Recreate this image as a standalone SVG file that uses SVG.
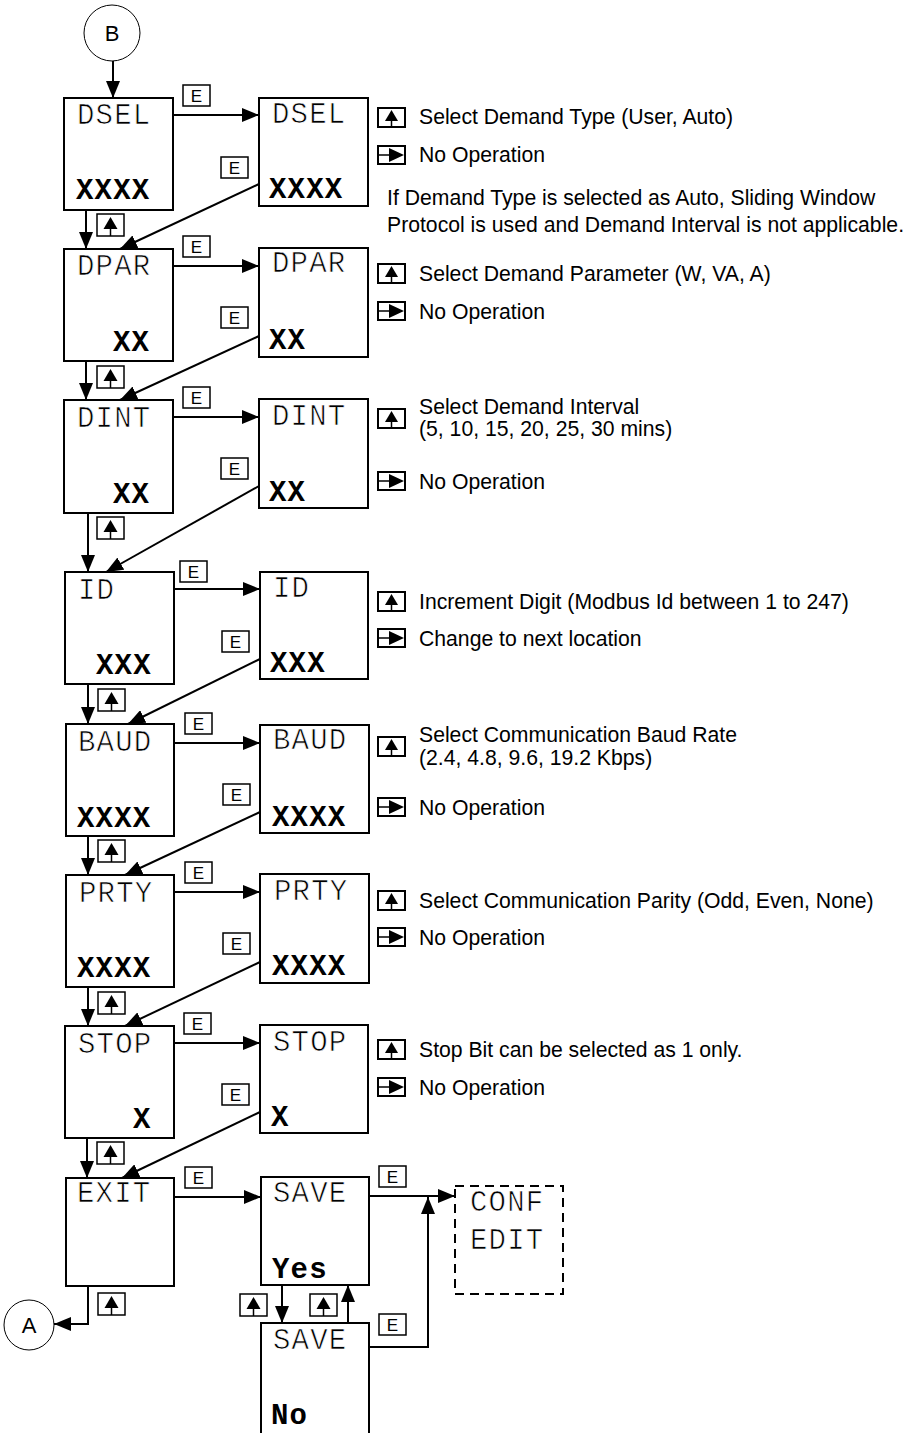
<svg xmlns="http://www.w3.org/2000/svg" xmlns:xlink="http://www.w3.org/1999/xlink" width="917" height="1433" viewBox="0 0 917 1433">
<style>
.box{fill:#fff;stroke:#000;stroke-width:2}
.dash{fill:#fff;stroke:#000;stroke-width:2;stroke-dasharray:9,6}
.lbl{font-family:"Liberation Mono",monospace;font-size:29px;letter-spacing:1.2px;fill:#000;stroke:#fff;stroke-width:0.7px}
.val{font-family:"Liberation Mono",monospace;font-size:29px;letter-spacing:1.2px;font-weight:bold;fill:#000}
.side{font-family:"Liberation Sans",Arial,sans-serif;font-size:21.2px;fill:#000}
.circ{fill:#fff;stroke:#000;stroke-width:1}
.ctext{font-family:"Liberation Sans",Arial,sans-serif;font-size:22px;fill:#000;text-anchor:middle}
.con{fill:none;stroke:#000;stroke-width:2}
.k{fill:#fff;stroke:#000;stroke-width:1.5}
.ke{font-family:"Liberation Sans",Arial,sans-serif;font-size:17px;fill:#000;text-anchor:middle}
</style>
<defs>
<marker id="ah" markerUnits="userSpaceOnUse" markerWidth="17" markerHeight="14" refX="17" refY="7" orient="auto">
<path d="M0,0 L17,7 L0,14 Z" fill="#000"/>
</marker>
<g id="ek"><rect class="k" x="0" y="0" width="27" height="21"/><text class="ke" x="13.5" y="17">E</text></g>
<g id="uk"><rect class="k" x="0" y="0" width="27" height="22"/><path d="M13.5,3 L20.5,15 L6.5,15 Z" fill="#000"/><line x1="13.5" y1="15" x2="13.5" y2="22" stroke="#000" stroke-width="1.5"/></g>
<g id="us"><rect class="k" x="0" y="0" width="27" height="19" style="stroke-width:2"/><path d="M13.5,2 L20,13 L7,13 Z" fill="#000"/><line x1="13.5" y1="13" x2="13.5" y2="19" stroke="#000" stroke-width="1.5"/></g>
<g id="rs"><rect class="k" x="0" y="0" width="27" height="18" style="stroke-width:2"/><line x1="0" y1="9" x2="11" y2="9" stroke="#000" stroke-width="1.5"/><path d="M11,2 L26,9 L11,16 Z" fill="#000"/></g>
</defs>

<g id="connectors">
<line class="con" x1="113" y1="61" x2="113" y2="98" marker-end="url(#ah)"/>
<line class="con" x1="173" y1="115" x2="259" y2="115" marker-end="url(#ah)"/>
<line class="con" x1="259" y1="184" x2="120" y2="249" marker-end="url(#ah)"/>
<line class="con" x1="86" y1="210" x2="86" y2="249" marker-end="url(#ah)"/>
<line class="con" x1="173" y1="266" x2="259" y2="266" marker-end="url(#ah)"/>
<line class="con" x1="259" y1="336" x2="120" y2="400" marker-end="url(#ah)"/>
<line class="con" x1="86" y1="361" x2="86" y2="400" marker-end="url(#ah)"/>
<line class="con" x1="173" y1="417" x2="259" y2="417" marker-end="url(#ah)"/>
<line class="con" x1="259" y1="486" x2="106" y2="572" marker-end="url(#ah)"/>
<line class="con" x1="88" y1="513" x2="88" y2="572" marker-end="url(#ah)"/>
<line class="con" x1="174" y1="589" x2="260" y2="589" marker-end="url(#ah)"/>
<line class="con" x1="260" y1="659" x2="128" y2="724" marker-end="url(#ah)"/>
<line class="con" x1="88" y1="684" x2="88" y2="724" marker-end="url(#ah)"/>
<line class="con" x1="174" y1="743" x2="260" y2="743" marker-end="url(#ah)"/>
<line class="con" x1="260" y1="812" x2="125" y2="875" marker-end="url(#ah)"/>
<line class="con" x1="88" y1="836" x2="88" y2="875" marker-end="url(#ah)"/>
<line class="con" x1="174" y1="892" x2="260" y2="892" marker-end="url(#ah)"/>
<line class="con" x1="260" y1="962" x2="125" y2="1026" marker-end="url(#ah)"/>
<line class="con" x1="88" y1="987" x2="88" y2="1026" marker-end="url(#ah)"/>
<line class="con" x1="174" y1="1043" x2="260" y2="1043" marker-end="url(#ah)"/>
<line class="con" x1="260" y1="1112" x2="122" y2="1178" marker-end="url(#ah)"/>
<line class="con" x1="87" y1="1138" x2="87" y2="1178" marker-end="url(#ah)"/>
<line class="con" x1="174" y1="1197" x2="261" y2="1197" marker-end="url(#ah)"/>
<polyline class="con" points="88,1286 88,1324 54,1324" marker-end="url(#ah)"/>
<line class="con" x1="369" y1="1196" x2="455" y2="1196" marker-end="url(#ah)"/>
<line class="con" x1="282" y1="1285" x2="282" y2="1323" marker-end="url(#ah)"/>
<line class="con" x1="348" y1="1323" x2="348" y2="1285" marker-end="url(#ah)"/>
<polyline class="con" points="369,1347 428,1347 428,1197" marker-end="url(#ah)"/>
<use href="#ek" x="183" y="85"/><use href="#ek" x="221" y="157"/>
<use href="#ek" x="183" y="236"/><use href="#ek" x="221" y="307"/>
<use href="#ek" x="183" y="387"/><use href="#ek" x="221" y="458"/>
<use href="#ek" x="180" y="561"/><use href="#ek" x="222" y="631"/>
<use href="#ek" x="185" y="713"/><use href="#ek" x="223" y="784"/>
<use href="#ek" x="185" y="862"/><use href="#ek" x="223" y="933"/>
<use href="#ek" x="184" y="1013"/><use href="#ek" x="222" y="1084"/>
<use href="#ek" x="185" y="1167"/>
<use href="#ek" x="379" y="1166"/><use href="#ek" x="379" y="1314"/>
<use href="#uk" x="97" y="214"/><use href="#uk" x="97" y="366"/>
<use href="#uk" x="97" y="517"/><use href="#uk" x="98" y="689"/>
<use href="#uk" x="98" y="840"/><use href="#uk" x="98" y="992"/>
<use href="#uk" x="97" y="1142"/><use href="#uk" x="98" y="1293"/>
<use href="#uk" x="240" y="1294"/><use href="#uk" x="310" y="1294"/>
</g>

<g id="nodeB"><circle class="circ" cx="112" cy="33" r="28"/><text class="ctext" x="112" y="41">B</text></g>
<g id="nodeA"><circle class="circ" cx="29" cy="1325" r="25"/><text class="ctext" x="29" y="1333">A</text></g>

<g id="dsel1"><rect class="box" x="64" y="98" width="109" height="112"/><text class="lbl" x="77" y="124">DSEL</text><text class="val" x="76" y="199">XXXX</text></g>
<g id="dsel2"><rect class="box" x="259" y="98" width="109" height="108"/><text class="lbl" x="272" y="123">DSEL</text><text class="val" x="269" y="198">XXXX</text></g>
<g id="dpar1"><rect class="box" x="64" y="249" width="109" height="112"/><text class="lbl" x="77" y="275">DPAR</text><text class="val" x="113" y="351">XX</text></g>
<g id="dpar2"><rect class="box" x="259" y="248" width="109" height="109"/><text class="lbl" x="272" y="272">DPAR</text><text class="val" x="269" y="349">XX</text></g>
<g id="dint1"><rect class="box" x="64" y="400" width="109" height="113"/><text class="lbl" x="77" y="427">DINT</text><text class="val" x="113" y="503">XX</text></g>
<g id="dint2"><rect class="box" x="259" y="399" width="109" height="109"/><text class="lbl" x="272" y="425">DINT</text><text class="val" x="269" y="501">XX</text></g>
<g id="id1"><rect class="box" x="65" y="572" width="109" height="112"/><text class="lbl" x="78" y="599">ID</text><text class="val" x="96" y="674">XXX</text></g>
<g id="id2"><rect class="box" x="260" y="572" width="108" height="107"/><text class="lbl" x="273" y="597">ID</text><text class="val" x="270" y="672">XXX</text></g>
<g id="baud1"><rect class="box" x="66" y="724" width="108" height="112"/><text class="lbl" x="78" y="751">BAUD</text><text class="val" x="77" y="827">XXXX</text></g>
<g id="baud2"><rect class="box" x="260" y="725" width="109" height="108"/><text class="lbl" x="273" y="749">BAUD</text><text class="val" x="272" y="826">XXXX</text></g>
<g id="prty1"><rect class="box" x="66" y="875" width="108" height="112"/><text class="lbl" x="79" y="902">PRTY</text><text class="val" x="77" y="977">XXXX</text></g>
<g id="prty2"><rect class="box" x="260" y="874" width="109" height="109"/><text class="lbl" x="274" y="900">PRTY</text><text class="val" x="272" y="975">XXXX</text></g>
<g id="stop1"><rect class="box" x="65" y="1026" width="109" height="112"/><text class="lbl" x="78" y="1053">STOP</text><text class="val" x="133" y="1128">X</text></g>
<g id="stop2"><rect class="box" x="260" y="1025" width="108" height="108"/><text class="lbl" x="273" y="1051">STOP</text><text class="val" x="271" y="1126">X</text></g>
<g id="exit"><rect class="box" x="66" y="1178" width="108" height="108"/><text class="lbl" x="77" y="1202">EXIT</text></g>
<g id="saveYes"><rect class="box" x="261" y="1177" width="108" height="108"/><text class="lbl" x="273" y="1202">SAVE</text><text class="val" x="272" y="1278">Yes</text></g>
<g id="saveNo"><rect class="box" x="261" y="1323" width="108" height="130"/><text class="lbl" x="273" y="1349">SAVE</text><text class="val" x="271" y="1424">No</text></g>
<g id="confEdit"><rect class="dash" x="455" y="1186" width="108" height="108"/><text class="lbl" x="470" y="1211">CONF</text><text class="lbl" x="470" y="1249">EDIT</text></g>

<g id="notes">
<use href="#us" x="378" y="108"/><text class="side" x="419" y="124">Select Demand Type (User, Auto)</text>
<use href="#rs" x="378" y="146"/><text class="side" x="419" y="162">No Operation</text>
<text class="side" x="387" y="205">If Demand Type is selected as Auto, Sliding Window</text>
<text class="side" x="387" y="232">Protocol is used and Demand Interval is not applicable.</text>
<use href="#us" x="378" y="264"/><text class="side" x="419" y="281">Select Demand Parameter (W, VA, A)</text>
<use href="#rs" x="378" y="302"/><text class="side" x="419" y="319">No Operation</text>
<use href="#us" x="378" y="409"/><text class="side" x="419" y="414">Select Demand Interval</text>
<text class="side" x="419" y="436">(5, 10, 15, 20, 25, 30 mins)</text>
<use href="#rs" x="378" y="472"/><text class="side" x="419" y="489">No Operation</text>
<use href="#us" x="378" y="592"/><text class="side" x="419" y="609">Increment Digit (Modbus Id between 1 to 247)</text>
<use href="#rs" x="378" y="629"/><text class="side" x="419" y="646">Change to next location</text>
<use href="#us" x="378" y="737"/><text class="side" x="419" y="742">Select Communication Baud Rate</text>
<text class="side" x="419" y="765">(2.4, 4.8, 9.6, 19.2 Kbps)</text>
<use href="#rs" x="378" y="798"/><text class="side" x="419" y="815">No Operation</text>
<use href="#us" x="378" y="891"/><text class="side" x="419" y="908">Select Communication Parity (Odd, Even, None)</text>
<use href="#rs" x="378" y="928"/><text class="side" x="419" y="945">No Operation</text>
<use href="#us" x="378" y="1040"/><text class="side" x="419" y="1057">Stop Bit can be selected as 1 only.</text>
<use href="#rs" x="378" y="1078"/><text class="side" x="419" y="1095">No Operation</text>
</g>
</svg>
